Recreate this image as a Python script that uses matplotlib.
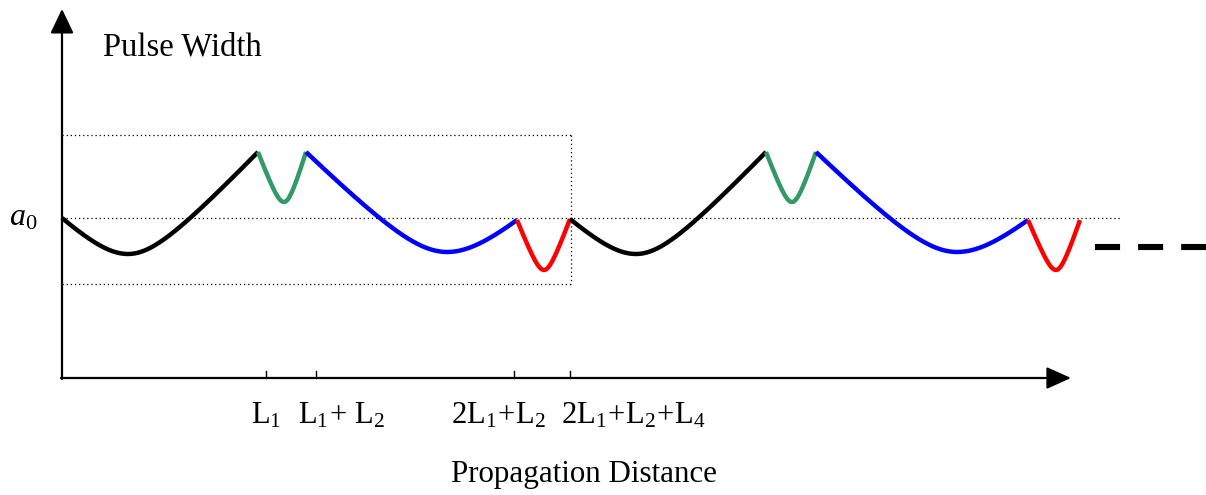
"""
Schematic: pulse width vs propagation distance (dispersion map, periodic).
"""
import matplotlib
matplotlib.use('Agg')
import matplotlib.pyplot as plt
import numpy as np

plt.rcParams['font.family'] = 'Liberation Serif'
plt.rcParams['mathtext.fontset'] = 'custom'
plt.rcParams['mathtext.rm'] = 'Liberation Serif'
plt.rcParams['mathtext.it'] = 'Liberation Serif:italic'

# key points of each curve segment (schematic units = pixels, y downward)
seg_colors = ['black', '#339966', '#0000ff', '#ff0000',
              'black', '#339966', '#0000ff', '#ff0000']
seg_start_x = [62, 258, 306, 517, 570, 766, 816, 1028]
seg_start_y = [218, 152, 152, 220, 219, 152, 152, 220]
seg_min_x = [128, 284, 447, 544, 636, 792, 957, 1056]
seg_min_y = [254, 202, 252, 270, 254, 202, 252, 270]
seg_end_x = [258, 306, 517, 570, 766, 816, 1028, 1080]
seg_end_y = [152, 152, 220, 219, 152, 152, 220, 220]
seg_width = [40, 9, 50, 9, 40, 9, 50, 9]

tick_x = [266, 316, 514, 570]
tick_labels = [r'$\mathrm{L}_1$', r'$\mathrm{L}_1\!+\,\mathrm{L}_2$',
               r'$2\mathrm{L}_1\!+\!\mathrm{L}_2$',
               r'$2\mathrm{L}_1\!+\!\mathrm{L}_2\!+\!\mathrm{L}_4$']
tick_label_x = [266, 341, 498, 633]

a0_level = 218
box_top, box_bottom, box_right = 135, 284, 571
a0_line_end = 1120

fig = plt.figure(figsize=(12.06, 4.95), dpi=100, facecolor='white')
ax = fig.add_axes([0, 0, 1, 1])
ax.set_xlim(0, 1206)
ax.set_ylim(495, 0)
ax.axis('off')


def branch(x0, y0, xm, ym, w, n=80):
    xs = np.linspace(x0, xm, n)
    f = np.sqrt(1 + ((xs - xm) / w) ** 2) - 1
    f0 = np.sqrt(1 + ((x0 - xm) / w) ** 2) - 1
    return xs, ym + (y0 - ym) * f / f0


# axes with arrows
ax.annotate('', xy=(62, 9), xytext=(62, 379),
            arrowprops=dict(arrowstyle='-|>,head_length=1.0,head_width=0.48',
                            mutation_scale=15, lw=1.6, color='black',
                            shrinkA=0, shrinkB=0))
ax.annotate('', xy=(1071, 378), xytext=(61, 378),
            arrowprops=dict(arrowstyle='-|>,head_length=1.0,head_width=0.45',
                            mutation_scale=15, lw=1.6, color='black',
                            shrinkA=0, shrinkB=0))

# dotted guide box and a0 level
dot = dict(color='black', lw=0.9, linestyle=(0, (1, 2.3)))
ax.plot([62, box_right], [box_top, box_top], **dot)
ax.plot([62, box_right], [box_bottom, box_bottom], **dot)
ax.plot([box_right, box_right], [box_top, box_bottom], **dot)
ax.plot([62, a0_line_end], [a0_level, a0_level], **dot)

# curve segments
for i in range(len(seg_colors)):
    xl, yl = branch(seg_start_x[i], seg_start_y[i], seg_min_x[i], seg_min_y[i], seg_width[i])
    xr, yr = branch(seg_end_x[i], seg_end_y[i], seg_min_x[i], seg_min_y[i], seg_width[i])
    xs = np.concatenate([xl, xr[::-1]])
    ys = np.concatenate([yl, yr[::-1]])
    ax.plot(xs, ys, color=seg_colors[i], lw=3.2, solid_capstyle='butt',
            solid_joinstyle='round')

# continuation dashes
ax.plot([1095, 1206], [247, 247], color='black', lw=4.4,
        linestyle=(0, (4.1, 2.95)), dash_capstyle='butt')

# ticks and labels
for x, lab, lx in zip(tick_x, tick_labels, tick_label_x):
    ax.plot([x, x], [378, 371], color='black', lw=1.0)
    ax.text(lx, 424, lab, ha='center', va='baseline', fontsize=22)

ax.text(182, 56, 'Pulse Width', ha='center', va='baseline', fontsize=23.5)
ax.text(584, 482, 'Propagation Distance', ha='center', va='baseline', fontsize=22.3)
ax.text(9, 225, r'$a_0$', ha='left', va='baseline', fontsize=23)

plt.savefig('out.png', dpi=100, facecolor='white')
plt.close()
